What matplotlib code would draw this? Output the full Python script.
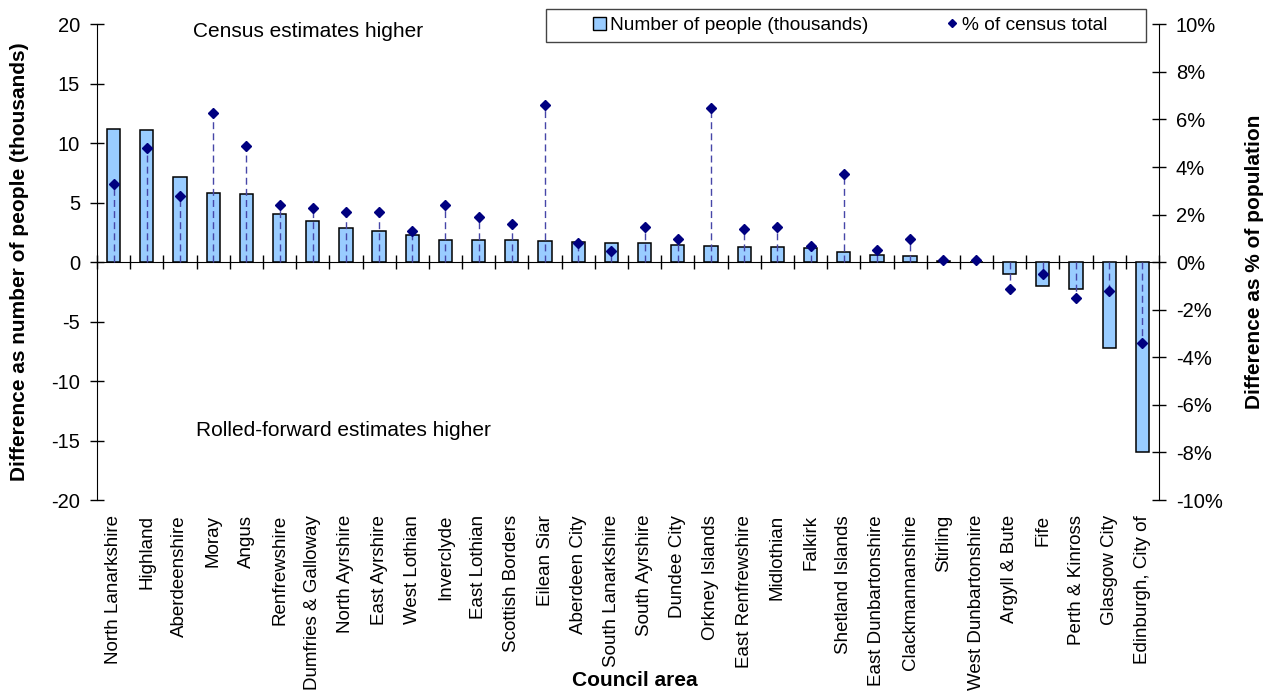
import numpy as np
import matplotlib
matplotlib.use("Agg")
from matplotlib import pyplot as plt
from matplotlib.patches import Patch, Rectangle
from matplotlib.lines import Line2D
from matplotlib.ticker import FuncFormatter

plt.rcParams['font.family'] = ['Liberation Sans', 'DejaVu Sans']
plt.rcParams['axes.unicode_minus'] = False

# council areas, sorted by difference in number of people
AREAS = ["North Lanarkshire", "Highland", "Aberdeenshire", "Moray", "Angus",
         "Renfrewshire", "Dumfries & Galloway", "North Ayrshire", "East Ayrshire",
         "West Lothian", "Inverclyde", "East Lothian", "Scottish Borders",
         "Eilean Siar", "Aberdeen City", "South Lanarkshire", "South Ayrshire",
         "Dundee City", "Orkney Islands", "East Renfrewshire", "Midlothian",
         "Falkirk", "Shetland Islands", "East Dunbartonshire", "Clackmannanshire",
         "Stirling", "West Dunbartonshire", "Argyll & Bute", "Fife",
         "Perth & Kinross", "Glasgow City", "Edinburgh, City of"]

# difference (census minus rolled-forward), thousands of people
PEOPLE = [11.17, 11.11, 7.13, 5.84, 5.71, 4.08, 3.46, 2.90, 2.62, 2.26, 1.89,
          1.84, 1.84, 1.81, 1.72, 1.64, 1.64, 1.47, 1.39, 1.28, 1.28, 1.17,
          0.86, 0.58, 0.52, 0.08, 0.05, -0.99, -1.97, -2.28, -7.18, -16.0]

# the same difference as % of the census total
PCT = [3.27, 4.79, 2.78, 6.28, 4.89, 2.39, 2.29, 2.10, 2.10, 1.30, 2.39,
       1.89, 1.59, 6.59, 0.79, 0.48, 1.49, 0.99, 6.49, 1.39, 1.49, 0.68,
       3.69, 0.51, 0.97, 0.09, 0.09, -1.13, -0.51, -1.52, -1.21, -3.41]

LEFT_TICKS = list(range(-20, 21, 5))
RIGHT_TICKS = list(range(-10, 11, 2))

BAR_COLOUR = '#99CCFF'
DOT_COLOUR = '#000080'
DROP_COLOUR = '#4646A8'

W, H = 1272, 698
fig = plt.figure(figsize=(W / 100, H / 100), dpi=100)
ax = fig.add_axes([97 / W, 1 - 500 / H, (1159 - 97) / W, (500 - 24.3) / H])

x = np.arange(len(AREAS))
ax.bar(x, PEOPLE, width=0.4, color=BAR_COLOUR, edgecolor='black', linewidth=1.1, zorder=2)
ax.set_xlim(-0.5, len(AREAS) - 0.5)
ax.set_ylim(LEFT_TICKS[0], LEFT_TICKS[-1])
ax.set_yticks(LEFT_TICKS)
ax.tick_params(axis='y', direction='inout', length=9.4, width=1, labelsize=14.5, pad=7.5)
ax.set_xticks(x, AREAS, rotation=90)
ax.tick_params(axis='x', length=0, labelsize=13.5, pad=10.8)
for side in ['top', 'bottom', 'right']:
    ax.spines[side].set_visible(False)

# zero line with category separators
zero = ax.secondary_xaxis(0.5)
zero.set_xticks(np.arange(-0.5, len(AREAS)), [''] * (len(AREAS) + 1))
zero.tick_params(direction='inout', length=9.4, width=1)

ax.text(2.38, 18.9, 'Census estimates higher', fontsize=15, va='baseline')
ax.text(2.48, -14.66, 'Rolled-forward estimates higher', fontsize=15, va='baseline')

ax2 = ax.twinx()
ax2.vlines(x, 0, PCT, colors=DROP_COLOUR, linestyles=(0, (5, 3)), linewidth=1.0, zorder=2)
ax2.plot(x, PCT, linestyle='none', marker='D', color=DOT_COLOUR, markersize=5.4, zorder=3)
ax2.set_ylim(RIGHT_TICKS[0], RIGHT_TICKS[-1])
ax2.set_yticks(RIGHT_TICKS)
ax2.yaxis.set_major_formatter(FuncFormatter(lambda v, p: '{:.0f}%'.format(v)))
ax2.tick_params(axis='y', direction='inout', length=9.4, width=1, labelsize=14.5, pad=7.5)
for side in ['top', 'bottom', 'left']:
    ax2.spines[side].set_visible(False)

fig.text(635 / W, 1 - 681 / H, 'Council area', fontsize=15, fontweight='bold',
         ha='center', va='center')
fig.text(20 / W, 1 - 262 / H, 'Difference as number of people (thousands)', fontsize=15,
         fontweight='bold', rotation=90, ha='center', va='center')
fig.text(1254 / W, 1 - 262 / H, 'Difference as % of population', fontsize=15,
         fontweight='bold', rotation=90, ha='center', va='center')

# legend box
box = Rectangle((546 / W, 1 - 42.3 / H), 600 / W, 33.3 / H, transform=fig.transFigure,
                facecolor='white', edgecolor='#444444', linewidth=1.0, zorder=4)
fig.add_artist(box)
handles = [Patch(facecolor=BAR_COLOUR, edgecolor='black', linewidth=1.0),
           Line2D([], [], linestyle='none', marker='D', color=DOT_COLOUR, markersize=4.0)]
fig.legend(handles, ['Number of people (thousands)', '% of census total'],
           loc='center', bbox_to_anchor=(850 / W, 1 - 25.5 / H), ncol=2, frameon=False,
           fontsize=13.8, handlelength=0.7, handleheight=0.7, handletextpad=0.2,
           columnspacing=4.0, borderpad=0.2).set_zorder(5)

fig.savefig('out.png', dpi=100)
